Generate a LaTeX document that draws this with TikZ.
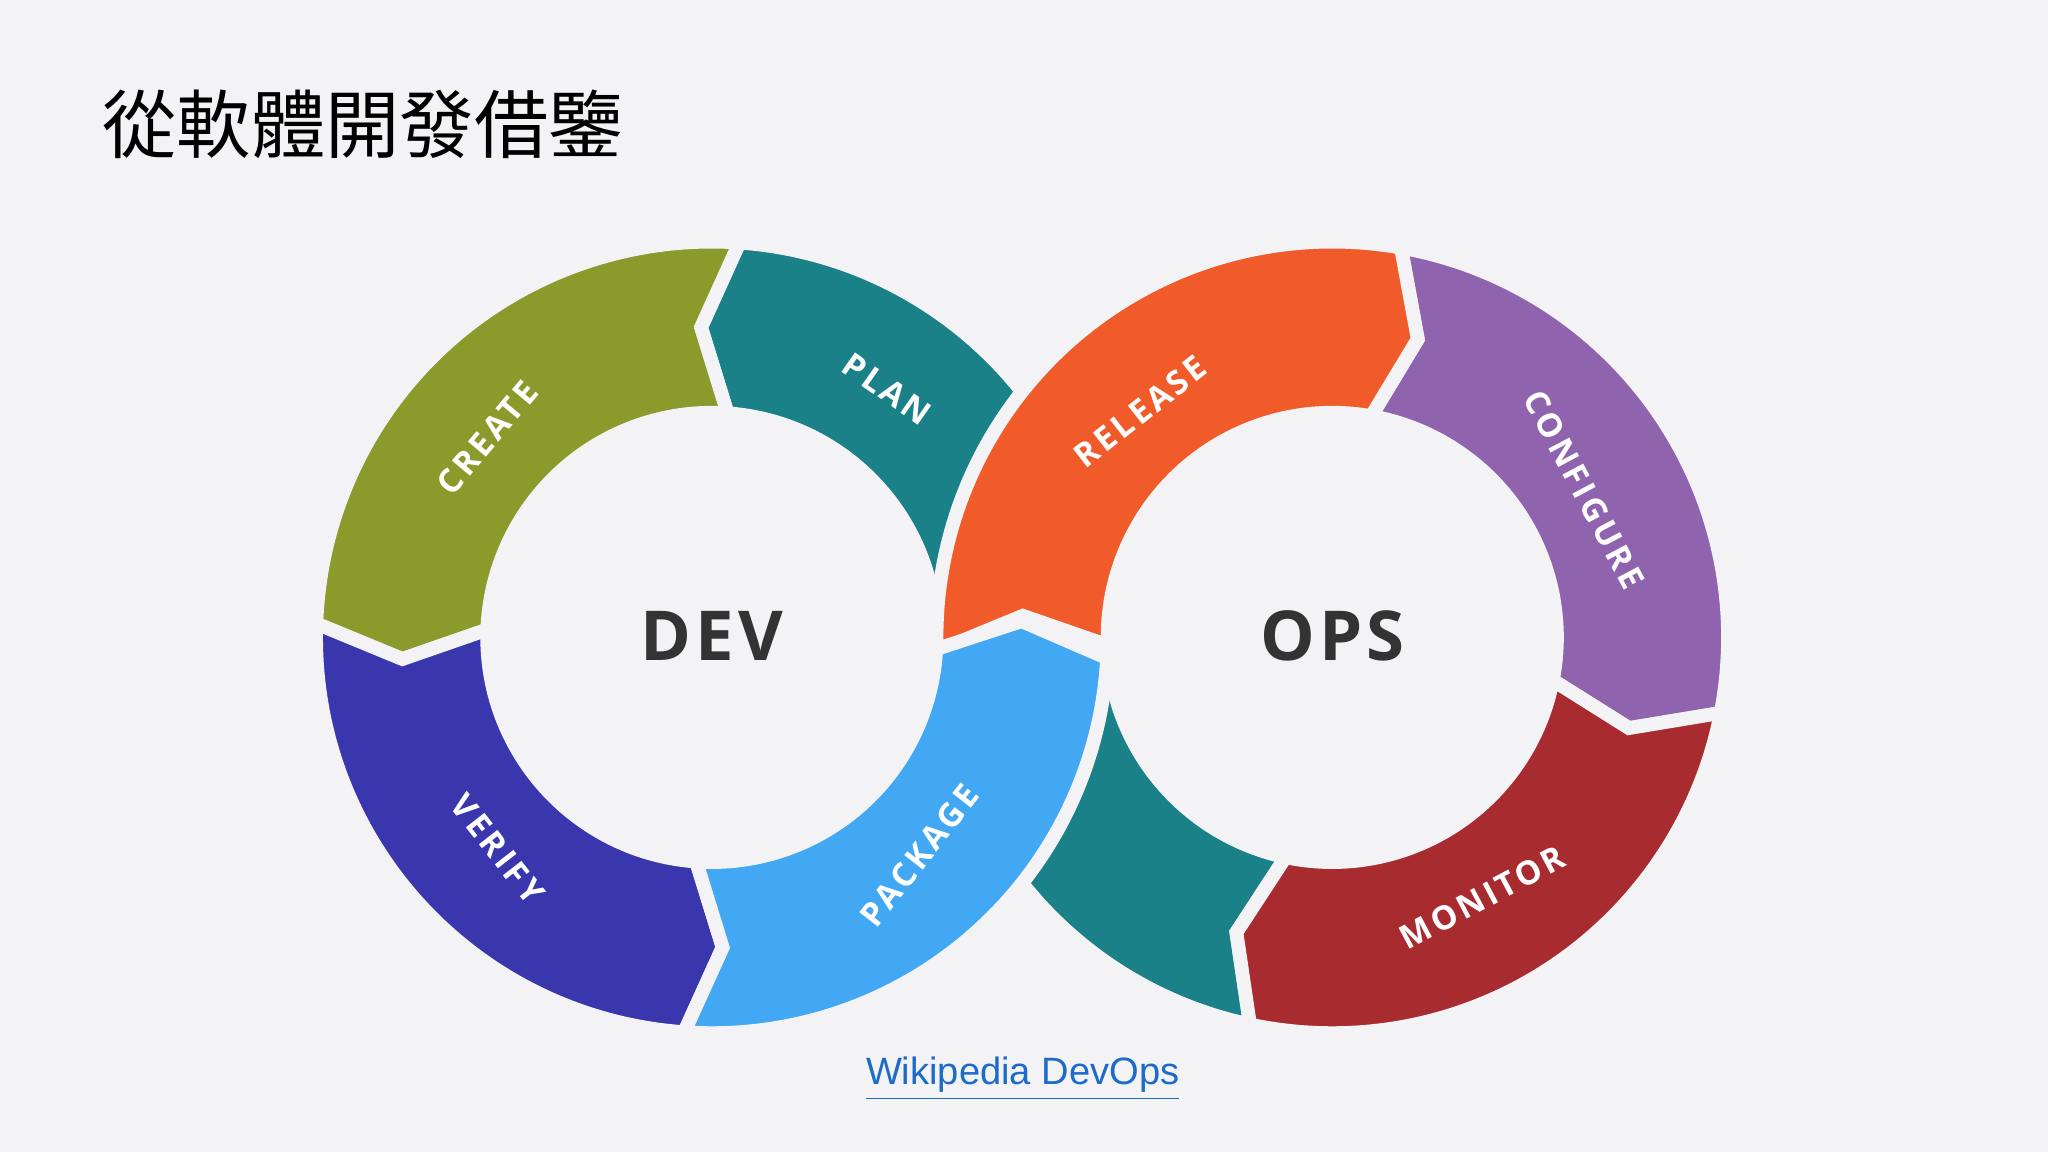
\documentclass[tikz,border=0pt]{standalone}
\usepackage{fontspec}
\setmainfont{Open Sans}
\newfontfamily\cjk{Noto Sans CJK TC}
\newfontfamily\lib{Liberation Sans}
\newfontfamily\lblfont[LetterSpace=10]{Open Sans}
\newfontfamily\bigfont[LetterSpace=6]{Open Sans}
\definecolor{bg}{HTML}{F3F2F4}
\definecolor{olive}{HTML}{8A9A2B}
\definecolor{teal}{HTML}{1B8189}
\definecolor{navy}{HTML}{3A37AE}
\definecolor{sky}{HTML}{42A8F4}
\definecolor{orng}{HTML}{F15A29}
\definecolor{purp}{HTML}{9063AE}
\definecolor{crim}{HTML}{A82B30}
\definecolor{link}{HTML}{1C6BC8}
\def\ro{3.03}\def\ri{1.72}\def\rmid{2.375}
\newcommand\seg[5]{%
 \path[shift={(#1)},fill=#4,draw=bg,line width=3pt,line join=miter]
 (#2:\ro) arc[start angle=#2,end angle=#3,radius=\ro] -- ({#3+#5}:\rmid) -- (#3:\ri)
 arc[start angle=#3,end angle=#2,radius=\ri] -- ({#2+#5}:\rmid) -- cycle;}
\tikzset{lbl/.style={text=white,font=\lblfont\bfseries\fontsize{7.2}{8}\selectfont},
 big/.style={text=black!80,font=\bigfont\bfseries\fontsize{15}{18}\selectfont}}
\begin{document}
\begin{tikzpicture}
\fill[bg] (0,0) rectangle (15.68,8.82);
\useasboundingbox (0,0) rectangle (15.68,8.82);
\coordinate (L) at (5.45,3.94);
\coordinate (R) at (10.20,3.94);
\seg{R}{-102}{-176}{teal}{-6}
\seg{L}{5}{86}{teal}{6}
\seg{L}{86}{178}{olive}{6}
\seg{L}{178}{266}{navy}{6}
\seg{R}{80}{-11}{purp}{-6}
\seg{R}{-11}{-102}{crim}{-6}
\seg{R}{182}{80}{orng}{-6}
\seg{L}{266}{357}{sky}{6}
\node[anchor=west,font=\cjk\fontsize{16.2}{18}\selectfont] (title) at (0.66,7.87) {從軟體開發借鑒};
\node[big] (dev) at (5.45,3.95) {DEV};
\node[big] (ops) at (10.20,3.95) {OPS};
\node[lbl,rotate=50] (create) at (3.73,5.47) {CREATE};
\node[lbl,rotate=-35] (plan) at (6.79,5.84) {PLAN};
\node[lbl,rotate=-52] (verify) at (3.81,2.32) {VERIFY};
\node[lbl,rotate=52] (package) at (7.04,2.27) {PACKAGE};
\node[lbl,rotate=38] (release) at (8.73,5.67) {RELEASE};
\node[lbl,rotate=-62] (configure) at (12.13,5.07) {CONFIGURE};
\node[lbl,rotate=28] (monitor) at (11.35,1.95) {MONITOR};
\node[text=link,font=\lib\fontsize{8.3}{10}\selectfont] (wiki) at (7.83,0.56) {\underline{Wikipedia DevOps}};
\end{tikzpicture}
\end{document}
